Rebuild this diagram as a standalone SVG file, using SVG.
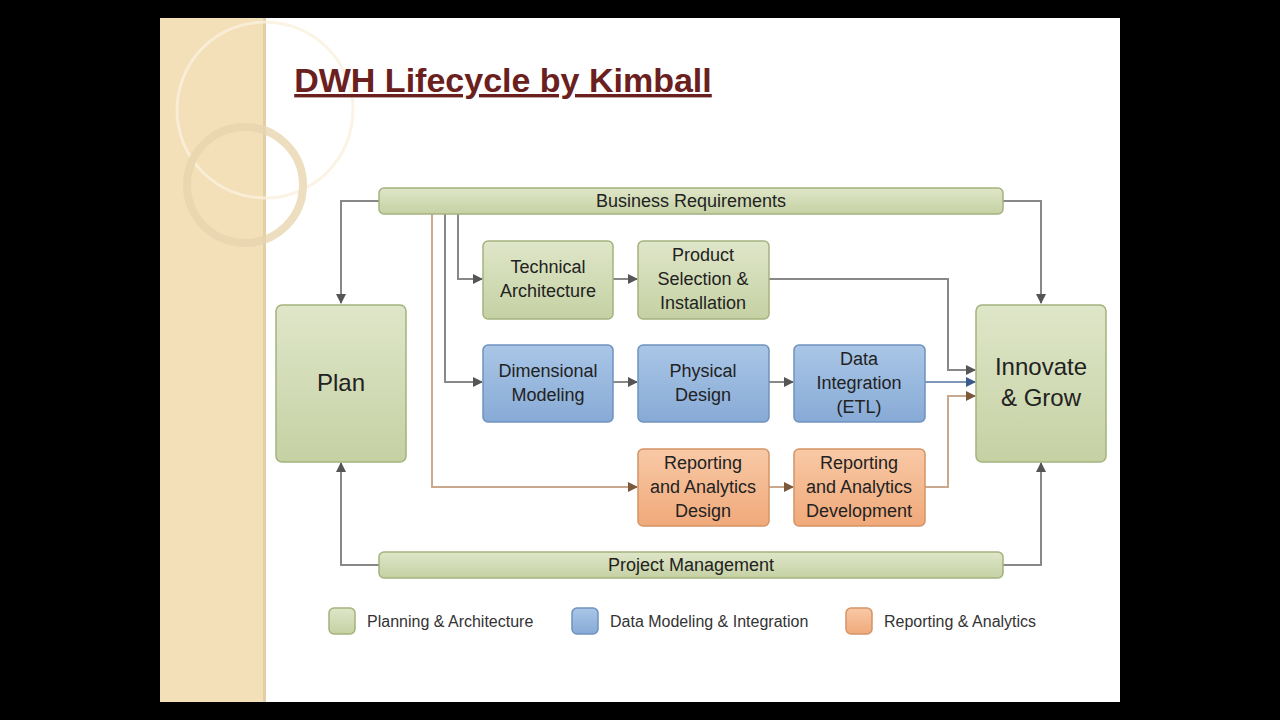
<svg xmlns="http://www.w3.org/2000/svg" width="1280" height="720" viewBox="0 0 1280 720">
<defs>
<marker id="ah" viewBox="0 0 10 10" refX="9" refY="5" markerWidth="5" markerHeight="5" orient="auto"><path d="M0,0 L10,5 L0,10 z" fill="#555"/></marker>
<marker id="ab" viewBox="0 0 10 10" refX="9" refY="5" markerWidth="5" markerHeight="5" orient="auto"><path d="M0,0 L10,5 L0,10 z" fill="#3a5a8a"/></marker>
<marker id="ao" viewBox="0 0 10 10" refX="9" refY="5" markerWidth="5" markerHeight="5" orient="auto"><path d="M0,0 L10,5 L0,10 z" fill="#7a5a3a"/></marker>
<linearGradient id="gg" x1="0" y1="0" x2="0" y2="1"><stop offset="0" stop-color="#dfe6c9"/><stop offset="1" stop-color="#c5d1a3"/></linearGradient>
<linearGradient id="gb" x1="0" y1="0" x2="0" y2="1"><stop offset="0" stop-color="#a9c6e6"/><stop offset="1" stop-color="#87aad6"/></linearGradient>
<linearGradient id="go" x1="0" y1="0" x2="0" y2="1"><stop offset="0" stop-color="#f8c9a6"/><stop offset="1" stop-color="#f0a97a"/></linearGradient>
</defs>
<style>
.g{fill:url(#gg);stroke:#a4b27e;stroke-width:1.5}
.b{fill:url(#gb);stroke:#6f92bd;stroke-width:1.5}
.o{fill:url(#go);stroke:#d49466;stroke-width:1.5}
text{font-family:"Liberation Sans",Arial,sans-serif;fill:#222;text-anchor:middle}
.t{font-size:18px}
.c{fill:none;stroke:#888;stroke-width:2}
.lg{font-size:16px;text-anchor:start;fill:#333}
</style>
<rect width="1280" height="720" fill="#000"/>
<rect x="160" y="18" width="960" height="684" fill="#fff"/>
<rect x="160" y="18" width="105" height="684" fill="#f3dfb8"/>
<rect x="263" y="18" width="3" height="684" fill="#e2cfa6"/>
<g fill="none" stroke="#fbf1de" stroke-width="3" opacity="0.8">
<circle cx="265" cy="110" r="88"/>
<circle cx="245" cy="185" r="58" stroke="#e8d6b0" stroke-width="8"/>
</g>
<text x="503" y="92" style="font-size:34px;font-weight:bold;fill:#6b2020;text-decoration:underline">DWH Lifecycle by Kimball</text>

<g id="connectors">
<path class="c" d="M379,201 H341 V303" marker-start="url(#ah)" marker-end="url(#ah)"/>
<path class="c" d="M379,565 H341 V463" marker-start="url(#ah)" marker-end="url(#ah)"/>
<path class="c" d="M1003,201 H1041 V303" marker-start="url(#ah)" marker-end="url(#ah)"/>
<path class="c" d="M1003,565 H1041 V463" marker-start="url(#ah)" marker-end="url(#ah)"/>
<path class="c" d="M458,214 V279 H482" marker-end="url(#ah)"/>
<path class="c" d="M445,214 V382 H482" marker-end="url(#ah)"/>
<path class="c" d="M432,214 V487 H637" style="stroke:#c9a88e" marker-end="url(#ao)"/>
<path class="c" d="M613,279 H637" marker-end="url(#ah)"/>
<path class="c" d="M613,382 H637" marker-end="url(#ah)"/>
<path class="c" d="M769,382 H793" marker-end="url(#ah)"/>
<path class="c" d="M769,487 H793" style="stroke:#c9a88e" marker-end="url(#ao)"/>
<path class="c" d="M769,279 H948 V370 H975" marker-end="url(#ah)"/>
<path class="c" d="M925,382 H975" style="stroke:#7f98b8" marker-end="url(#ab)"/>
<path class="c" d="M925,487 H948 V396 H975" style="stroke:#c9a88e" marker-end="url(#ao)"/>
</g>

<g id="business-requirements"><rect class="g" x="379" y="188" width="624" height="26" rx="5"/><text class="t" x="691" y="207">Business Requirements</text></g>
<g id="project-management"><rect class="g" x="379" y="552" width="624" height="26" rx="5"/><text class="t" x="691" y="571">Project Management</text></g>
<g id="plan"><rect class="g" x="276" y="305" width="130" height="157" rx="6"/><text x="341" y="391" style="font-size:24px">Plan</text></g>
<g id="innovate"><rect class="g" x="976" y="305" width="130" height="157" rx="6"/><text x="1041" y="375" style="font-size:24px">Innovate</text><text x="1041" y="406" style="font-size:24px">&amp; Grow</text></g>
<g id="tech-arch"><rect class="g" x="483" y="241" width="130" height="78" rx="5"/><text class="t" x="548" y="273">Technical</text><text class="t" x="548" y="297">Architecture</text></g>
<g id="product-selection"><rect class="g" x="638" y="241" width="131" height="78" rx="5"/><text class="t" x="703" y="261">Product</text><text class="t" x="703" y="285">Selection &amp;</text><text class="t" x="703" y="309">Installation</text></g>
<g id="dimensional"><rect class="b" x="483" y="345" width="130" height="77" rx="5"/><text class="t" x="548" y="377">Dimensional</text><text class="t" x="548" y="401">Modeling</text></g>
<g id="physical"><rect class="b" x="638" y="345" width="131" height="77" rx="5"/><text class="t" x="703" y="377">Physical</text><text class="t" x="703" y="401">Design</text></g>
<g id="etl"><rect class="b" x="794" y="345" width="131" height="77" rx="5"/><text class="t" x="859" y="365">Data</text><text class="t" x="859" y="389">Integration</text><text class="t" x="859" y="413">(ETL)</text></g>
<g id="ra-design"><rect class="o" x="638" y="449" width="131" height="77" rx="5"/><text class="t" x="703" y="469">Reporting</text><text class="t" x="703" y="493">and Analytics</text><text class="t" x="703" y="517">Design</text></g>
<g id="ra-dev"><rect class="o" x="794" y="449" width="131" height="77" rx="5"/><text class="t" x="859" y="469">Reporting</text><text class="t" x="859" y="493">and Analytics</text><text class="t" x="859" y="517">Development</text></g>

<g id="legend">
<rect class="g" x="329" y="608" width="26" height="26" rx="5"/><text class="lg" x="367" y="627">Planning &amp; Architecture</text>
<rect class="b" x="572" y="608" width="26" height="26" rx="5"/><text class="lg" x="610" y="627">Data Modeling &amp; Integration</text>
<rect class="o" x="846" y="608" width="26" height="26" rx="5"/><text class="lg" x="884" y="627">Reporting &amp; Analytics</text>
</g>
</svg>
